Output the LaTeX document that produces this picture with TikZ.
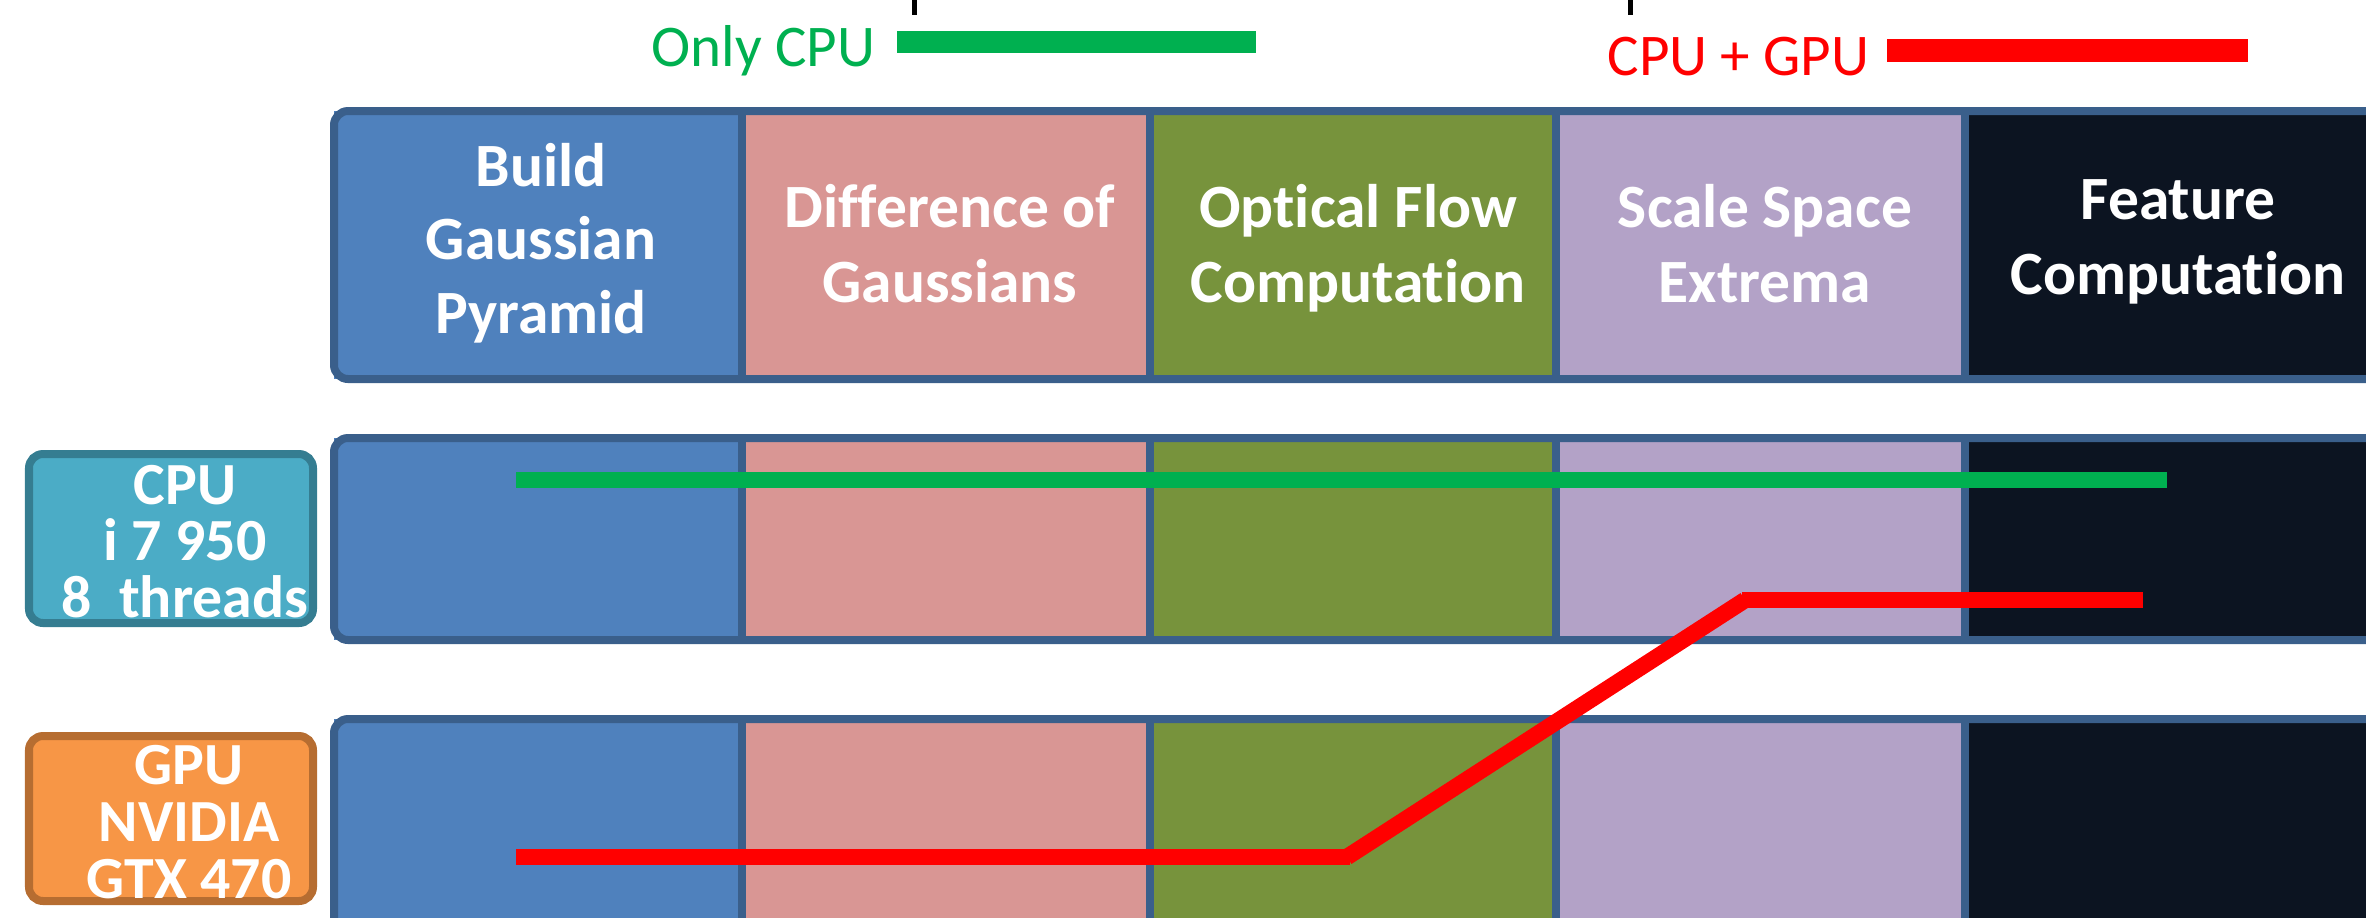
\documentclass[tikz,border=0pt]{standalone}
\usepackage{fontspec}
\setmainfont{Carlito}[RawFeature={-liga;-clig;-dlig;-calt;-hlig}]
\definecolor{cblue}{HTML}{4F81BD}
\definecolor{cpink}{HTML}{D99694}
\definecolor{cgreen}{HTML}{77933C}
\definecolor{cpurple}{HTML}{B3A2C7}
\definecolor{cblack}{HTML}{0C1421}
\definecolor{bordblue}{HTML}{3A5F8B}
\definecolor{cpufill}{HTML}{4BACC6}
\definecolor{cpubord}{HTML}{357D91}
\definecolor{gpufill}{HTML}{F79646}
\definecolor{gpubord}{HTML}{B66D31}
\definecolor{lgreen}{HTML}{00B050}
\definecolor{lred}{HTML}{FF0000}
\newcommand\mystack[2]{\vtop{\baselineskip=#1\lineskiplimit=-\maxdimen\halign{\hfil##\hfil\cr#2\crcr}}}
\newcommand\mkrow[2]{%
  \fill[cblue]   (334,#1) rectangle (742,#2);
  \fill[cpink]   (742,#1) rectangle (1150,#2);
  \fill[cgreen]  (1150,#1) rectangle (1556,#2);
  \fill[cpurple] (1556,#1) rectangle (1965,#2);
  \fill[cblack]  (1965,#1) rectangle (2440,#2);
  \draw[bord, rounded corners=4] (2440,#1) -- (334,#1) -- (334,#2) -- (2440,#2);
  \foreach \xx in {742,1150,1556,1965} \draw[bord] (\xx,#1) -- (\xx,#2);
}
\begin{document}
\begin{tikzpicture}[x=0.01cm,y=-0.01cm,
  bord/.style={draw=bordblue, line width=0.08cm},
  hdr/.style={font=\fontsize{17.5}{21.3}\selectfont\bfseries, text=white, anchor=base, inner sep=0pt},
  lbl/.style={font=\fontsize{17}{16}\selectfont\bfseries, text=white, anchor=base, inner sep=0pt},
  legend/.style={font=\fontsize{16.8}{20}\selectfont, anchor=base east, inner sep=0pt},
  cpubox/.style={fill=cpufill, draw=cpubord, line width=0.08cm, rounded corners=4},
  gpubox/.style={fill=gpufill, draw=gpubord, line width=0.08cm, rounded corners=4},
  legbar/.style={line width=0.22cm},
  tick/.style={draw=black, line width=0.05cm},
  track/.style={line width=0.165cm},
]
\useasboundingbox (0,0) rectangle (2366,917);
\clip (0,0) rectangle (2366,917);

% legend
\node[legend, text=lgreen] (lcpu) at (876,66) {Only CPU};
\coordinate (lgA) at (897,41.5);
\coordinate (lgB) at (1256,41.5);
\draw[legbar, lgreen] (lgA) -- (lgB);
\node[legend, text=lred] (lgpu) at (1870,75) {CPU + GPU};
\coordinate (lrA) at (1887,50.5);
\coordinate (lrB) at (2248,50.5);
\draw[legbar, lred, line width=0.23cm] (lrA) -- (lrB);
\coordinate (t1a) at (914,-5);
\coordinate (t1b) at (914,15);
\coordinate (t2a) at (1630,-5);
\coordinate (t2b) at (1630,15);
\draw[tick] (t1a) -- (t1b);
\draw[tick] (t2a) -- (t2b);

% rows
\mkrow{111}{379}
\mkrow{438}{640}
\mkrow{719}{990}

% header texts
\node[hdr] (h1) at (541,186) {\mystack{21pt}{Build\cr Gaussian\cr Pyramid}};
\node[hdr] (h2) at (950,227) {\mystack{21.5pt}{Difference of\cr Gaussians}};
\node[hdr] (h3) at (1358,227) {\mystack{21.5pt}{Optical Flow\cr Computation}};
\node[hdr] (h4) at (1765,227) {\mystack{21.5pt}{Scale Space\cr Extrema}};
\node[hdr] (h5) at (2178,219) {\mystack{21.5pt}{Feature\cr Computation}};

% label boxes
\draw[cpubox] (29,454) rectangle (313,623);
\node[lbl] (cpu) at (185,504) {\mystack{16.07pt}{CPU\cr i 7 950\cr 8~ threads}};
\draw[gpubox] (29,736) rectangle (313,901);
\node[lbl] (gpu) at (189,784) {\mystack{16.3pt}{GPU\cr NVIDIA\cr GTX 470}};

% tracks
\coordinate (g1) at (516,480);
\coordinate (g2) at (2167,480);
\draw[track, lgreen] (g1) -- (g2);
\coordinate (r1) at (516,857);
\coordinate (r2) at (1350,857);
\coordinate (r3) at (1742,600);
\coordinate (r4) at (2143,600);
\draw[track, lred] (r1) -- (r2);
\draw[track, lred] ([xshift=-0.03cm]r2) -- ([xshift=0.03cm]r3);
\draw[track, lred] (r3) -- (r4);
\end{tikzpicture}
\end{document}
